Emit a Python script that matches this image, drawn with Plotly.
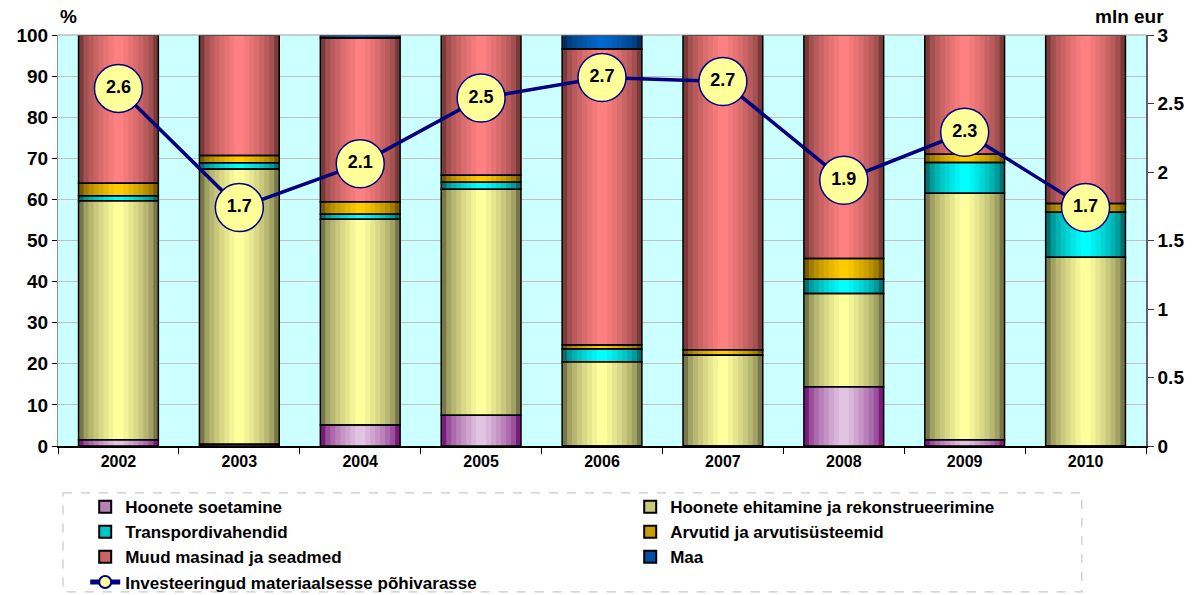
import plotly.graph_objects as go

# Andmed (loetud pildilt)
years = ["2002", "2003", "2004", "2005", "2006", "2007", "2008", "2009", "2010"]

hoonete_soetamine = [1.5, 0.4, 5.1, 7.5, 0.0, 0.0, 14.4, 1.5, 0.0]
hoonete_ehitamine = [58.2, 67.0, 50.1, 55.0, 20.5, 22.1, 22.7, 60.0, 45.9]
transpordivahendid = [1.2, 1.5, 1.2, 1.7, 3.1, 0.0, 3.5, 7.5, 11.0]
arvutid = [3.0, 1.8, 3.0, 1.7, 1.0, 1.3, 5.0, 2.0, 2.1]
muud_masinad = [36.1, 29.3, 39.9, 34.1, 72.0, 76.6, 54.4, 29.0, 41.0]
maa = [0.0, 0.0, 0.7, 0.0, 3.4, 0.0, 0.0, 0.0, 0.0]

investeeringud = [2.61, 1.74, 2.06, 2.54, 2.69, 2.66, 1.94, 2.29, 1.74]

series = [
    ("Hoonete soetamine", hoonete_soetamine, "#7A1A7A", "#E2C4E2"),
    ("Hoonete ehitamine ja rekonstrueerimine", hoonete_ehitamine, "#77774A", "#FFFF9E"),
    ("Transpordivahendid", transpordivahendid, "#007070", "#00FFFF"),
    ("Arvutid ja arvutisüsteemid", arvutid, "#7A5A00", "#FFCC00"),
    ("Muud masinad ja seadmed", muud_masinad, "#7A3A3A", "#FF8080"),
    ("Maa", maa, "#002E60", "#0068CC"),
]

FONT = "Liberation Sans, Arial, sans-serif"
BAR_W = 0.66
N_LAYERS = 8


def hex_rgb(h):
    h = h.lstrip("#")
    return tuple(int(h[i:i + 2], 16) for i in (0, 2, 4))


def mix(c1, c2, t):
    a, b = hex_rgb(c1), hex_rgb(c2)
    return "rgb(%d,%d,%d)" % tuple(round(x + (y - x) * t) for x, y in zip(a, b))


fig = go.Figure()

# silindrilaadne varjutus: mitu kitsenevat kihti tumedast servast heleda keskmeni
base = [0.0] * len(years)
bases = []
for name, vals, edge, center in series:
    bases.append(list(base))
    for k in range(N_LAYERS):
        t = (k / (N_LAYERS - 1)) ** 0.6
        w = BAR_W * (1 - k / N_LAYERS)
        fig.add_trace(go.Bar(
            x=years, y=vals, base=base, width=w,
            marker=dict(color=mix(edge, center, t), line=dict(width=0)),
            showlegend=False, hoverinfo="skip",
        ))
    base = [b + v for b, v in zip(base, vals)]

# segmentide mustad piirjooned
for (name, vals, edge, center), b in zip(series, bases):
    fig.add_trace(go.Bar(
        x=years, y=vals, base=b, width=BAR_W,
        marker=dict(color="rgba(0,0,0,0)", line=dict(color="black", width=1.5)),
        name=name, showlegend=False,
    ))

# legendi kirjed
for name, vals, edge, center in series:
    fig.add_trace(go.Bar(
        x=[None], y=[None], name=name,
        marker=dict(color=mix(edge, center, 0.6), line=dict(color="black", width=1.5)),
    ))

fig.add_trace(go.Scatter(
    x=years, y=investeeringud, yaxis="y2",
    name="Investeeringud materiaalsesse põhivarasse",
    mode="lines+markers+text",
    line=dict(color="#000080", width=3.5),
    marker=dict(size=48, color="#FFFF99", line=dict(color="#000080", width=1.5)),
    texttemplate="%{y:.1f}", textposition="middle center",
    textfont=dict(family=FONT, size=18, color="black", weight="bold"),
))

fig.update_layout(
    width=1197, height=595,
    barmode="overlay",
    paper_bgcolor="white",
    plot_bgcolor="#CCFFFF",
    font=dict(family=FONT, size=18, color="black", weight="bold"),
    margin=dict(l=58, r=51, t=35, b=149, autoexpand=False),
    xaxis=dict(
        type="category", range=[-0.5, 8.5], showline=True, linecolor="black", linewidth=1.5,
        ticks="outside", tickson="boundaries", ticklen=6, tickcolor="black",
        tickfont=dict(size=16, weight="bold"), automargin=False,
    ),
    yaxis=dict(
        range=[0, 100], dtick=10, showgrid=True, gridcolor="#C0C0C0", gridwidth=1,
        showline=True, linecolor="#909090", ticks="outside", ticklen=5,
        tickcolor="black", zeroline=False, tickfont=dict(size=19, weight="bold"),
        automargin=False,
    ),
    yaxis2=dict(
        range=[0, 3], dtick=0.5, overlaying="y", side="right", showgrid=False,
        showline=True, linecolor="#606060", linewidth=1.5, ticks="outside", ticklen=6,
        tickcolor="#404040", zeroline=False, tickfont=dict(size=19, weight="bold"),
        automargin=False,
    ),
    legend=dict(
        orientation="h", xref="paper", x=0.025, xanchor="left",
        yref="container", y=0.178, yanchor="top",
        entrywidth=500, entrywidthmode="pixels", traceorder="normal",
        font=dict(size=17, weight="bold"), itemsizing="constant",
        bgcolor="rgba(0,0,0,0)", tracegroupgap=0,
    ),
    annotations=[
        dict(text="%", xref="paper", yref="paper", x=0.0, y=1.0, yshift=6,
             xanchor="left", yanchor="bottom", showarrow=False,
             font=dict(size=19, weight="bold")),
        dict(text="mln eur", xref="paper", yref="paper", x=1.018, y=1.0, yshift=6,
             xanchor="right", yanchor="bottom", showarrow=False,
             font=dict(size=19, weight="bold")),
    ],
    shapes=[
        dict(type="rect", xref="paper", yref="paper", x0=0.0046, x1=0.941,
             y0=-0.114, y1=-0.355, line=dict(color="#C8C8C8", width=1.2, dash="dash")),
        dict(type="line", xref="paper", yref="paper", x0=0, x1=1, y0=1, y1=1,
             line=dict(color="#A0A0A0", width=1)),
    ],
)

# lehe vaikimisi veeris ära, et joonis algaks vasakust ülanurgast
fig.write_html(
    "out.html",
    config={"displayModeBar": False},
    post_script="document.body.style.margin='0';",
)
